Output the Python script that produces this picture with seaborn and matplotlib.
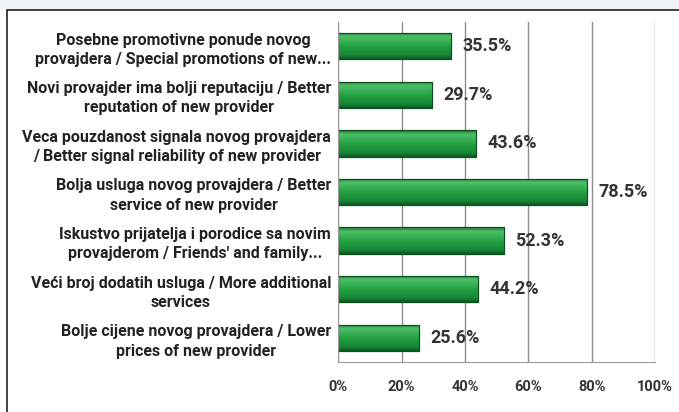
import numpy as np
import pandas as pd
import matplotlib
matplotlib.use("Agg")
import matplotlib.pyplot as plt
import seaborn as sns
from matplotlib.patches import Rectangle
from matplotlib.colors import LinearSegmentedColormap

# data
labels = [
    "Posebne promotivne ponude novog\nprovajdera / Special promotions of new...",
    "Novi provajder ima bolji reputaciju / Better\nreputation of new provider",
    "Veca pouzdanost signala novog provajdera\n/ Better signal reliability of new provider",
    "Bolja usluga novog provajdera / Better\nservice of new provider",
    "Iskustvo prijatelja i porodice sa novim\nprovajderom / Friends' and family...",
    "Veći broj dodatih usluga / More additional\nservices",
    "Bolje cijene novog provajdera / Lower\nprices of new provider",
]
values = [35.5, 29.7, 43.6, 78.5, 52.3, 44.2, 25.6]
xticks = [0, 20, 40, 60, 80, 100]

df = pd.DataFrame({"label": labels, "value": values})

sns.set_style("white")
plt.rcParams['font.family'] = ['Roboto', 'DejaVu Sans']

fig = plt.figure(figsize=(6.79, 4.12), dpi=100)
fig.patch.set_facecolor("white")
ax = fig.add_axes([0.498, 0.121, 0.467, 0.826])

sns.barplot(data=df, y="label", x="value", orient="h", color="#1f9a3d",
            width=0.54, ax=ax, edgecolor="#0b4f1c", linewidth=0.8)

# glossy cylinder look: gradient clipped to each bar (top -> bottom)
cmap = LinearSegmentedColormap.from_list(
    "g", [(0, "#17712e"), (0.15, "#4cbf69"), (0.3, "#3db45a"),
          (0.6, "#1f9a3d"), (0.85, "#18873a"), (1, "#0c5a21")])
grad = np.linspace(0, 1, 64).reshape(-1, 1)
for p in list(ax.patches):
    x0, y0 = p.get_x(), p.get_y()
    w, h = p.get_width(), p.get_height()
    im = ax.imshow(grad, cmap=cmap, aspect="auto",
                   extent=(x0, x0 + w, y0 + h, y0), zorder=p.get_zorder() + 0.1)
    im.set_clip_path(p)
    ax.add_patch(Rectangle((x0, y0), w, h, fill=False, edgecolor="#0b4f1c",
                           linewidth=0.8, zorder=p.get_zorder() + 0.2))

for i, v in enumerate(values):
    ax.text(v + 3.6, i, f"{v:.1f}%", va="center", ha="left",
            fontsize=13, fontweight="bold", color="#333333")

ax.set_xlim(0, 100)
ax.set_ylim(len(values) - 0.5, -0.5)
ax.set_xticks(xticks)
ax.set_xticklabels([f"{t}%" for t in xticks], fontsize=10.5, fontweight="bold",
                   color="#333333")
ax.tick_params(axis="x", length=4, color="#888888", pad=9)
ax.tick_params(axis="y", length=0, pad=5)
ax.set_yticks(range(len(labels)))
ax.set_yticklabels(labels, fontsize=11.5, fontweight="bold", color="#222222",
                   multialignment="center", linespacing=1.35)
ax.set_yticks(np.arange(-0.5, len(labels), 1), minor=True)
ax.tick_params(axis="y", which="minor", length=4, color="#aaaaaa")
ax.set_xlabel("")
ax.set_ylabel("")

ax.grid(axis="x", color="#8c8c8c", linewidth=1)
ax.set_axisbelow(True)
for s in ["top", "right"]:
    ax.spines[s].set_visible(False)
for s in ["left", "bottom"]:
    ax.spines[s].set_color("#999999")

# light strip at the top and the outer frame
fig.add_artist(Rectangle((0, 1 - 10 / 412), 1, 10 / 412, transform=fig.transFigure,
                         facecolor="#eef3f8", edgecolor="none", zorder=-1))
fig.add_artist(Rectangle((7 / 679, -0.01), 1, 1 - 10 / 412 + 0.01,
                         transform=fig.transFigure, fill=False,
                         edgecolor="#222222", linewidth=1.2))

fig.savefig("out.png", dpi=100)
